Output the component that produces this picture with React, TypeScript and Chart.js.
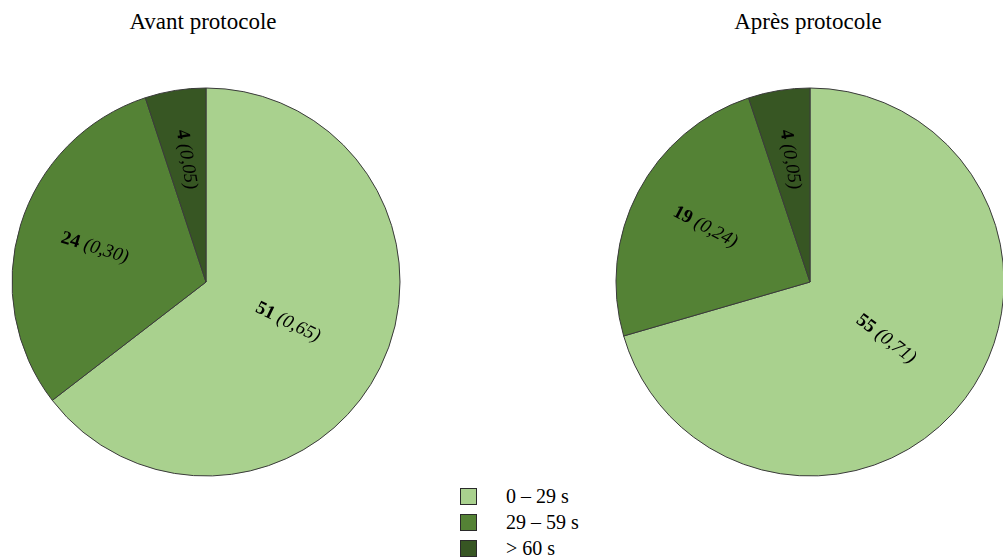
import React, { useEffect, useRef } from "react";
import { Chart, registerables } from "chart.js";

Chart.register(...registerables);

const categories = ["0 – 29 s", "29 – 59 s", "> 60 s"];
const avantValues = [51, 24, 4];
const apresValues = [55, 19, 4];
const titles = ["Avant protocole", "Après protocole"];
const colors = ["#A9D18E", "#548235", "#375623"];

const FONT = "'Liberation Serif', 'Times New Roman', serif";

const labelPlugin = {
  id: "sliceLabels",
  afterDatasetsDraw(chart: any, _args: any, opts: any) {
    const ctx = chart.ctx;
    const meta = chart.getDatasetMeta(0);
    const data = chart.data.datasets[0].data as number[];
    const total = data.reduce((a, b) => a + b, 0);
    const fracs: number[] = opts.fractions || [0.5, 0.6, 0.64];
    meta.data.forEach((arc: any, i: number) => {
      const p = arc.getProps(["x", "y", "startAngle", "endAngle", "outerRadius"], true);
      const mid = (p.startAngle + p.endAngle) / 2;
      const r = p.outerRadius * fracs[i];
      const cx = p.x + Math.cos(mid) * r;
      const cy = p.y + Math.sin(mid) * r;
      let rot = mid;
      if (Math.cos(mid) < 0) rot += Math.PI;
      const num = String(data[i]);
      const pct = " (" + (data[i] / total).toFixed(2).replace(".", ",") + ")";
      ctx.save();
      ctx.translate(cx, cy);
      ctx.rotate(rot);
      ctx.fillStyle = "#000";
      ctx.textBaseline = "middle";
      ctx.textAlign = "left";
      ctx.font = "bold 19px " + FONT;
      const w1 = ctx.measureText(num).width;
      ctx.font = "italic 19px " + FONT;
      const w2 = ctx.measureText(pct).width;
      const start = -(w1 + w2) / 2;
      ctx.font = "bold 19px " + FONT;
      ctx.fillText(num, start, 0);
      ctx.font = "italic 19px " + FONT;
      ctx.fillText(pct, start + w1, 0);
      ctx.restore();
    });
  },
};

function PieChart({ values, fractions }: { values: number[]; fractions: number[] }) {
  const ref = useRef<HTMLCanvasElement>(null);
  useEffect(() => {
    if (!ref.current) return;
    const chart = new Chart(ref.current, {
      type: "pie",
      data: {
        labels: categories,
        datasets: [
          {
            data: values,
            backgroundColor: colors,
            borderColor: "#3a3a3a",
            borderWidth: 1,
          },
        ],
      },
      options: {
        responsive: false,
        animation: false,
        radius: 194,
        layout: { padding: 0 },
        plugins: {
          legend: { display: false },
          tooltip: { enabled: false },
          title: { display: false },
          sliceLabels: { fractions },
        } as any,
      },
      plugins: [labelPlugin],
    });
    return () => chart.destroy();
  }, []);
  return <canvas ref={ref} width={420} height={420} style={{ width: 420, height: 420 }} />;
}

export default function App() {
  return (
    <div
      style={{
        position: "fixed",
        left: 0,
        top: 0,
        width: 1003,
        height: 560,
        overflow: "hidden",
        background: "#fff",
        fontFamily: FONT,
      }}
    >
      <div style={{ position: "absolute", left: 206 - 210, top: 282 - 210 }}>
        <PieChart values={avantValues} fractions={[0.47, 0.6, 0.64]} />
      </div>
      <div style={{ position: "absolute", left: 810 - 210, top: 282 - 210 }}>
        <PieChart values={apresValues} fractions={[0.49, 0.61, 0.64]} />
      </div>
      <div
        style={{
          position: "absolute",
          left: 203 - 150,
          top: 8,
          width: 300,
          textAlign: "center",
          fontSize: 23,
          lineHeight: "27px",
          color: "#000",
        }}
      >
        {titles[0]}
      </div>
      <div
        style={{
          position: "absolute",
          left: 808 - 150,
          top: 8,
          width: 300,
          textAlign: "center",
          fontSize: 23,
          lineHeight: "27px",
          color: "#000",
        }}
      >
        {titles[1]}
      </div>
      <div style={{ position: "absolute", left: 460, top: 483 }}>
        {categories.map((c, i) => (
          <div key={c} style={{ display: "flex", alignItems: "center", height: 26 }}>
            <div
              style={{
                width: 15,
                height: 15,
                background: colors[i],
                border: "1px solid #2a2a2a",
                marginRight: 29,
              }}
            />
            <span style={{ fontSize: 20, lineHeight: "26px", color: "#000" }}>{c}</span>
          </div>
        ))}
      </div>
    </div>
  );
}
